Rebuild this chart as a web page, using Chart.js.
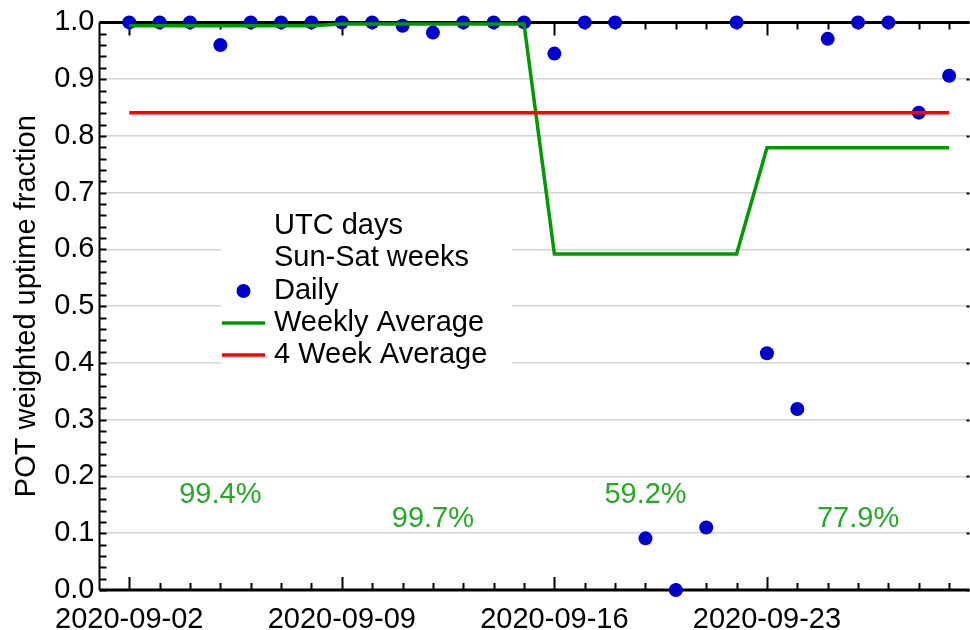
<!DOCTYPE html>
<html>
<head>
<meta charset="utf-8">
<title>POT weighted uptime fraction</title>
<script src="https://cdn.jsdelivr.net/npm/chart.js@4.4.0/dist/chart.umd.min.js"></script>
<style>
    html, body { margin: 0; padding: 0; background: #fff; }
    #wrap { width: 970px; height: 630px; }
</style>
</head>
<body>
<div id="wrap"><canvas id="uptimeChart" width="970" height="630"></canvas></div>
<script>
const days = [
    '2020-09-02', '2020-09-03', '2020-09-04', '2020-09-05', '2020-09-06', '2020-09-07', '2020-09-08',
    '2020-09-09', '2020-09-10', '2020-09-11', '2020-09-12', '2020-09-13', '2020-09-14', '2020-09-15',
    '2020-09-16', '2020-09-17', '2020-09-18', '2020-09-19', '2020-09-20', '2020-09-21', '2020-09-22',
    '2020-09-23', '2020-09-24', '2020-09-25', '2020-09-26', '2020-09-27', '2020-09-28', '2020-09-29'
];
const dailyUptime = [
    1.0, 1.0, 1.0, 0.960, 1.0, 1.0, 1.0,
    1.0, 1.0, 0.994, 0.982, 1.0, 1.0, 1.0,
    0.945, 1.0, 1.0, 0.091, 0.0, 0.110, 1.0,
    0.417, 0.319, 0.971, 1.0, 1.0, 0.841, 0.906
];
const weeklyAverage = [0.994, 0.997, 0.592, 0.779];
const fourWeekAverage = 0.841;
const yTickValues = [0.0, 0.1, 0.2, 0.3, 0.4, 0.5, 0.6, 0.7, 0.8, 0.9, 1.0];

const FONT = 'Liberation Sans';
const BLUE = '#0000cc';
const GREEN = '#009900';
const RED = '#ff0000';

Chart.defaults.font.family = FONT;
Chart.defaults.color = '#000';

// daily points
const dailyPoints = dailyUptime.map((v, i) => ({ x: i, y: v }));

// weekly average drawn as flat segments spanning each week
const weeklyPoints = [];
weeklyAverage.forEach((v, w) => {
    weeklyPoints.push({ x: w * 7, y: v });
    weeklyPoints.push({ x: w * 7 + 6, y: v });
});

const fourWeekPoints = [
    { x: 0, y: fourWeekAverage },
    { x: days.length - 1, y: fourWeekAverage }
];

// axis lines and inward ticks, drawn under the data
const axesPlugin = {
    id: 'axesPlugin',
    beforeDatasetsDraw(chart) {
        const { ctx, chartArea: a, scales: { x, y } } = chart;
        ctx.save();
        ctx.strokeStyle = '#000';

        // day ticks on bottom and top
        ctx.lineWidth = 2;
        days.forEach((d, i) => {
            const px = Math.round(x.getPixelForValue(i)) + 0.5;
            const len = i % 7 === 0 ? 13 : 7;
            ctx.beginPath();
            ctx.moveTo(px, a.bottom);
            ctx.lineTo(px, a.bottom - len);
            ctx.moveTo(px, a.top);
            ctx.lineTo(px, a.top + len);
            ctx.stroke();
        });

        // minor ticks on the left, every 0.02
        for (let k = 0; k <= 50; k++) {
            const py = Math.round(y.getPixelForValue(k / 50)) + 0.5;
            ctx.beginPath();
            ctx.moveTo(a.left, py);
            ctx.lineTo(a.left + 7, py);
            ctx.stroke();
        }
        // short ticks on the right edge
        yTickValues.forEach(v => {
            const py = Math.round(y.getPixelForValue(v)) + 0.5;
            ctx.beginPath();
            ctx.moveTo(a.right - 3, py);
            ctx.lineTo(a.right, py);
            ctx.stroke();
        });

        // frame lines
        ctx.lineWidth = 2;
        ctx.beginPath();
        ctx.moveTo(a.left, a.top);
        ctx.lineTo(a.left, a.bottom);
        ctx.stroke();
        ctx.lineWidth = 3;
        ctx.beginPath();
        ctx.moveTo(a.left, a.bottom);
        ctx.lineTo(a.right, a.bottom);
        ctx.moveTo(a.left, a.top);
        ctx.lineTo(a.right, a.top);
        ctx.stroke();
        ctx.restore();
    }
};

// weekly percentages and the legend box
const annotatePlugin = {
    id: 'annotatePlugin',
    afterDatasetsDraw(chart) {
        const { ctx, scales: { x, y } } = chart;
        ctx.save();
        ctx.font = '29px "' + FONT + '"';
        ctx.textAlign = 'center';
        ctx.textBaseline = 'middle';
        ctx.fillStyle = '#22aa22';
        weeklyAverage.forEach((v, w) => {
            const px = x.getPixelForValue(w * 7 + 3);
            const py = y.getPixelForValue(w % 2 === 0 ? 0.167 : 0.125);
            ctx.fillText((v * 100).toFixed(1) + '%', px, py);
        });

        // legend
        ctx.fillStyle = '#fff';
        ctx.fillRect(221, 205, 291, 165);
        ctx.textAlign = 'left';
        ctx.fillStyle = '#000';
        const rows = ['UTC days', 'Sun-Sat weeks', 'Daily', 'Weekly Average', '4 Week Average'];
        const rowY = [226, 258, 291, 323, 355];
        rows.forEach((t, i) => ctx.fillText(t, 274, rowY[i]));

        ctx.fillStyle = BLUE;
        ctx.beginPath();
        ctx.arc(243.5, rowY[2], 7, 0, Math.PI * 2);
        ctx.fill();

        ctx.lineWidth = 3.5;
        ctx.strokeStyle = GREEN;
        ctx.beginPath();
        ctx.moveTo(222, rowY[3]);
        ctx.lineTo(265, rowY[3]);
        ctx.stroke();
        ctx.strokeStyle = RED;
        ctx.beginPath();
        ctx.moveTo(222, rowY[4]);
        ctx.lineTo(265, rowY[4]);
        ctx.stroke();
        ctx.restore();
    }
};

function init() {
    const ctx = document.getElementById('uptimeChart').getContext('2d');

    window.myChart = new Chart(ctx, {
        type: 'scatter',
        data: {
            datasets: [
                {
                    label: '4 Week Average',
                    type: 'line',
                    data: fourWeekPoints,
                    borderColor: RED,
                    borderWidth: 3.5,
                    pointRadius: 0,
                    fill: false,
                    order: 1
                },
                {
                    label: 'Weekly Average',
                    type: 'line',
                    data: weeklyPoints,
                    borderColor: GREEN,
                    borderWidth: 3.5,
                    pointRadius: 0,
                    tension: 0,
                    fill: false,
                    clip: false,
                    order: 2
                },
                {
                    label: 'Daily',
                    data: dailyPoints,
                    backgroundColor: BLUE,
                    borderWidth: 0,
                    pointRadius: 7,
                    pointHoverRadius: 7,
                    clip: false,
                    order: 3
                }
            ]
        },
        options: {
            responsive: false,
            animation: false,
            devicePixelRatio: 1,
            layout: {
                autoPadding: false,
                padding: { top: 19.5, right: 0.5, left: 0, bottom: 0 }
            },
            plugins: {
                legend: { display: false },
                tooltip: { enabled: false }
            },
            scales: {
                x: {
                    type: 'linear',
                    min: -0.98,
                    max: 27.67,
                    afterBuildTicks: (scale) => {
                        scale.ticks = days.map((d, i) => ({ value: i }));
                    },
                    afterFit: (scale) => {
                        scale.height = 40;
                        scale.paddingLeft = 0;
                        scale.paddingRight = 0;
                    },
                    ticks: {
                        autoSkip: false,
                        maxRotation: 0,
                        padding: 5,
                        font: { size: 29 },
                        color: '#000',
                        callback: (v) => (v % 7 === 0 ? days[v] : '')
                    },
                    grid: { display: false },
                    border: { display: false }
                },
                y: {
                    min: 0,
                    max: 1,
                    afterBuildTicks: (scale) => {
                        scale.ticks = yTickValues.map(v => ({ value: v }));
                    },
                    afterFit: (scale) => { scale.width = 99.5; },
                    ticks: {
                        padding: 5,
                        font: { size: 29 },
                        color: '#000',
                        callback: (v) => v.toFixed(1)
                    },
                    grid: { drawTicks: false, color: '#d4d4d4', lineWidth: 1.5 },
                    border: { display: false },
                    title: {
                        display: true,
                        text: 'POT weighted uptime fraction',
                        font: { size: 29 },
                        color: '#000',
                        padding: { top: 10, bottom: 0 }
                    }
                }
            }
        },
        plugins: [axesPlugin, annotatePlugin]
    });
}

document.addEventListener('DOMContentLoaded', init);
</script>
</body>
</html>
